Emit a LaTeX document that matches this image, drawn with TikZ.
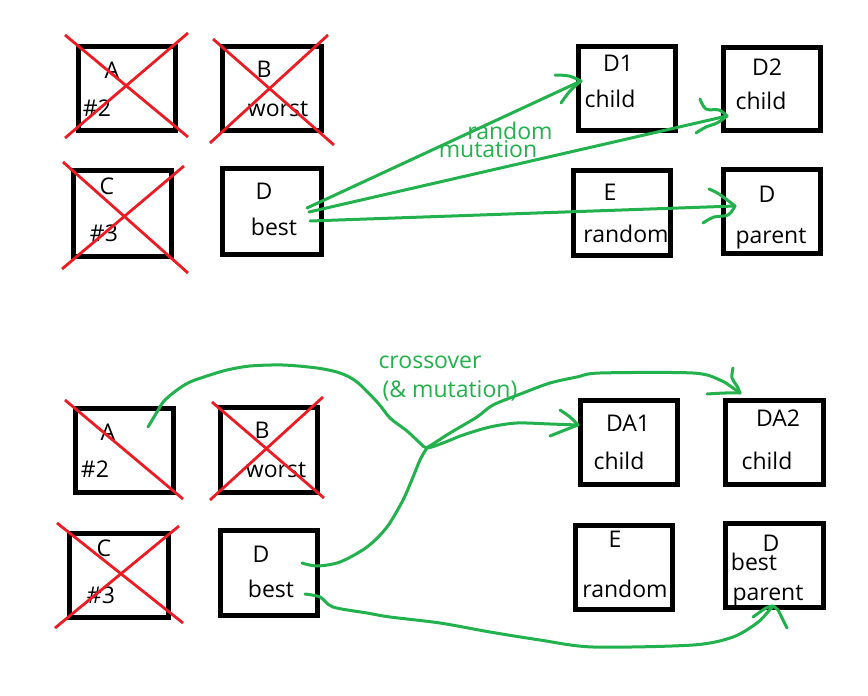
\documentclass[tikz,border=0pt]{standalone}
\usepackage{fontspec}
\setmainfont{Open Sans}
\definecolor{pgreen}{HTML}{22B14C}
\definecolor{pred}{HTML}{ED1C24}
\begin{document}
\begin{tikzpicture}[x=1pt,y=-1pt,
  box/.style={draw=black,line width=5pt,inner sep=0pt,rectangle},
  txt/.style={font=\fontsize{23}{27}\selectfont,inner sep=0pt,anchor=base,text=black},
  gtxt/.style={font=\fontsize{23}{27}\selectfont,inner sep=0pt,anchor=base,text=pgreen},
  xline/.style={draw=pred,line width=2.8pt},
  gline/.style={draw=pgreen,line width=3pt,line cap=round,line join=round}]
\fill[white] (0,0) rectangle (868,696);
\useasboundingbox (0,0) rectangle (868,696);

% ---------- top half boxes ----------
\node[box,minimum width=97pt,minimum height=84pt] (tA) at (127,88.5) {};
\node[box,minimum width=99pt,minimum height=84pt] (tB) at (272,88.5) {};
\node[box,minimum width=98pt,minimum height=86pt] (tC) at (122.5,213.5) {};
\node[box,minimum width=99pt,minimum height=86pt] (tD) at (272,211.5) {};
\node[box,minimum width=97pt,minimum height=84pt] (tD1) at (627,88.5) {};
\node[box,minimum width=97pt,minimum height=83pt] (tD2) at (772,89) {};
\node[box,minimum width=97pt,minimum height=85pt] (tE) at (622,213) {};
\node[box,minimum width=97pt,minimum height=84pt] (tDp) at (772,211.5) {};

\node[txt] (tAl) at (112,78) {A};
\node[txt] (tAn) at (97,116) {\#2};
\node[txt] (tBl) at (264,77) {B};
\node[txt] (tBn) at (278,116) {worst};
\node[txt] (tCl) at (107,194) {C};
\node[txt] (tCn) at (104,241) {\#3};
\node[txt] (tDl) at (264,199) {D};
\node[txt] (tDn) at (274,235) {best};
\node[txt] (tD1l) at (618,71) {D1};
\node[txt] (tD1n) at (610,107) {child};
\node[txt] (tD2l) at (767,75) {D2};
\node[txt] (tD2n) at (761,109) {child};
\node[txt] (tEl) at (610,200) {E};
\node[txt] (tEn) at (626,242) {random};
\node[txt] (tDpl) at (767,202) {D};
\node[txt] (tDpn) at (771,243) {parent};

% red crosses (top)
\draw[xline] (65,35) -- (188,137);
\draw[xline] (188,33) -- (65,138);
\draw[xline] (213,39) -- (334,145);
\draw[xline] (328,35) -- (210,143);
\draw[xline] (63,162) -- (188,273);
\draw[xline] (184,166) -- (62,269);

% top arrows
\coordinate (s1) at (307,208);
\coordinate (s2) at (309,212);
\coordinate (s3) at (310,221);
\coordinate (h1) at (581,81);
\coordinate (h2) at (727,116);
\coordinate (h3) at (735,206);
\draw[gline] (s1) -- (h1);
\draw[gline] (s2) -- (h2);
\draw[gline] (s3) -- (h3);
\draw[gline] plot[smooth,tension=0.6] coordinates {(555,75) (569,76) (h1)};
\draw[gline] plot[smooth,tension=0.6] coordinates {(h1) (570,91) (561,103)};
\draw[gline] plot[smooth,tension=0.6] coordinates {(700,99) (706,109) (719,110) (h2)};
\draw[gline] plot[smooth,tension=0.6] coordinates {(h2) (717,123) (706,127) (696,133)};
\draw[gline] plot[smooth,tension=0.6] coordinates {(709,189) (719,194) (h3)};
\draw[gline] plot[smooth,tension=0.6] coordinates {(h3) (728,215) (714,217) (703,223)};

\node[gtxt] (lrand) at (510,139) {random};
\node[gtxt] (lmut) at (488,157) {mutation};

% ---------- bottom half boxes ----------
\node[box,minimum width=98pt,minimum height=84pt] (bA) at (124.5,450.5) {};
\node[box,minimum width=97pt,minimum height=85pt] (bB) at (269,450) {};
\node[box,minimum width=99pt,minimum height=84pt] (bC) at (119,575.5) {};
\node[box,minimum width=97pt,minimum height=85pt] (bD) at (269,573) {};
\node[box,minimum width=97pt,minimum height=84pt] (bDA1) at (629,442.5) {};
\node[box,minimum width=98pt,minimum height=84pt] (bDA2) at (774.5,442.5) {};
\node[box,minimum width=97pt,minimum height=84pt] (bE) at (624,567.5) {};
\node[box,minimum width=98pt,minimum height=84pt] (bDp) at (774.5,565.5) {};

\node[txt] (bAl) at (108,440) {A};
\node[txt] (bAn) at (95,477) {\#2};
\node[txt] (bBl) at (262,438) {B};
\node[txt] (bBn) at (276,477) {worst};
\node[txt] (bCl) at (104,556) {C};
\node[txt] (bCn) at (101,603) {\#3};
\node[txt] (bDl) at (261,562) {D};
\node[txt] (bDn) at (271,597) {best};
\node[txt] (bDA1l) at (628,431) {DA1};
\node[txt] (bDA1n) at (619,469) {child};
\node[txt] (bDA2l) at (778,426) {DA2};
\node[txt] (bDA2n) at (767,469) {child};
\node[txt] (bEl) at (615,547) {E};
\node[txt] (bEn) at (625,597) {random};
\node[txt] (bDpl) at (771,551) {D};
\node[txt] (bDpb) at (754,570) {best};
\node[txt] (bDpn) at (768,600) {parent};

% red crosses (bottom)
\draw[xline] (65,400) -- (183,499);
\draw[xline] (212,402) -- (324,498);
\draw[xline] (323,397) -- (210,500);
\draw[xline] (57,523) -- (183,623);
\draw[xline] (179,526) -- (55,628);

% bottom curves
\coordinate (sA) at (148,427);
\coordinate (sDu) at (302,563);
\coordinate (sDl) at (305,594);
\coordinate (J) at (427,448);
\coordinate (hDA1) at (578,425);
\coordinate (hDA2) at (740,393);
\coordinate (hDp) at (773,606);

\draw[gline] plot[smooth,tension=0.5] coordinates {(sA) (157,412) (164,401) (177,390) (190,382) (210,375) (227,370) (250,366) (283,365) (317,368) (340,373) (357,382) (378,403) (390,418) (407,431) (420,443) (J) (443,443) (463,435) (490,427) (517,423) (550,424) (hDA1)};
\draw[gline] plot[smooth,tension=0.5] coordinates {(sDu) (317,566) (340,562) (367,547) (387,527) (403,500) (413,477) (420,460) (J) (433,444) (450,433) (477,417) (493,405) (523,393) (550,383) (577,377) (600,373) (693,373) (720,380) (733,388) (hDA2)};
\draw[gline] plot[smooth,tension=0.5] coordinates {(sDl) (320,597) (333,607) (367,613) (390,617) (440,623) (490,632) (540,640) (593,647) (693,645) (733,637) (757,623) (767,613) (hDp)};

\draw[gline] plot[smooth,tension=0.6] coordinates {(560,410) (570,417) (hDA1)};
\draw[gline] plot[smooth,tension=0.6] coordinates {(hDA1) (565,430) (550,436)};
\draw[gline] plot[smooth,tension=0.6] coordinates {(733,368) (732,378) (737,386) (hDA2)};
\draw[gline] plot[smooth,tension=0.6] coordinates {(707,394) (725,393) (hDA2)};
\draw[gline] plot[smooth,tension=0.6] coordinates {(753,617) (766,608) (hDp)};
\draw[gline] plot[smooth,tension=0.6] coordinates {(hDp) (778,610) (782,618) (787,628)};

\node[gtxt] (lcross) at (430,368) {crossover};
\node[gtxt] (lcm) at (450,397) {(\& mutation)};
\end{tikzpicture}
\end{document}
